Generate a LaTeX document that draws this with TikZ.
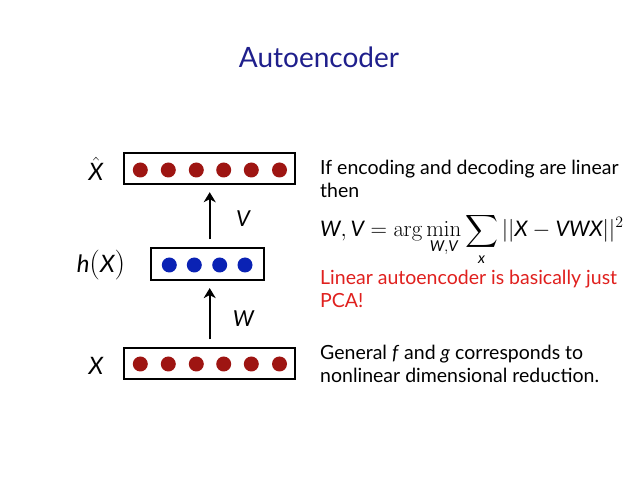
\documentclass[tikz,border=0pt]{standalone}
\usepackage{amsmath}
\usepackage{graphicx}
\usepackage[no-math]{fontspec}
\setmainfont{Lato}
\usetikzlibrary{arrows.meta}
\definecolor{titleblue}{HTML}{1F1F8C}
\definecolor{dotred}{HTML}{9E1512}
\definecolor{dotblue}{HTML}{0A22B4}
\definecolor{alertred}{HTML}{E0201E}
\newcommand\vi[1]{\text{\itshape #1}}
\tikzset{
  layer/.style={draw=black, line width=1.8pt, inner sep=0pt, fill=white},
  reddot/.style={circle, fill=dotred, minimum size=15pt, inner sep=0pt},
  bluedot/.style={circle, fill=dotblue, minimum size=15pt, inner sep=0pt},
  body/.style={anchor=base west, inner sep=0pt, font=\fontsize{19.5}{23}\selectfont},
  lab/.style={inner sep=0pt, font=\fontsize{22}{26}\selectfont\itshape},
  uparrow/.style={line width=2.4pt, -{Stealth[length=10pt,width=12pt,inset=3pt]}}
}
\begin{document}
\begin{tikzpicture}[x=1pt,y=-1pt]
\useasboundingbox[fill=white] (0,0) rectangle (638,478);
\node[anchor=base, inner sep=0pt, text=titleblue, font=\fontsize{28}{32}\selectfont] (title) at (319,68) {Autoencoder};

% layers
\node[layer, minimum width=171pt, minimum height=31pt] (top) at (209.7,168.8) {};
\node[layer, minimum width=113pt, minimum height=32pt] (mid) at (207.5,264.2) {};
\node[layer, minimum width=171pt, minimum height=31pt] (bot) at (209.7,363.8) {};

\foreach \i/\x in {1/140.3,2/168.3,3/196.3,4/223.7,5/251.3,6/279.5}{
  \node[reddot] (t\i) at (\x,170) {};
  \node[reddot] (b\i) at (\x,364) {};
}
\foreach \i/\x in {1/169.3,2/194.3,3/219.7,4/245}{
  \node[bluedot] (m\i) at (\x,265) {};
}

% arrows
\draw[uparrow, shorten <=8pt, shorten >=7pt] (bot.north) -- (bot.north |- mid.south);
\draw[uparrow, shorten <=8pt, shorten >=7pt] (mid.north -| top.south) -- (top.south);

% labels
\node[lab, font=\fontsize{24}{28}\selectfont\itshape] (lxhat) at (96,169) {$\hat{\text{\itshape X}}$};
\node[lab, font=\fontsize{24}{28}\selectfont\itshape] (lh) at (101,265) {\textit{h}\scalebox{1.2}{$($}\textit{X}\scalebox{1.2}{$)$}};
\node[lab, font=\fontsize{24}{28}\selectfont\itshape] (lx) at (96,366) {X};
\node[lab] (lv) at (243,219) {V};
\node[lab] (lw) at (243.5,319) {W};

% right text
\node[body] (t1) at (320,175) {If encoding and decoding are linear};
\node[body] (t2) at (320,198) {then};
\node[anchor=base west, inner sep=0pt, font=\fontsize{19.5}{23}\selectfont] (eq) at (320,237)
  {\scalebox{1.1}{$\displaystyle \vi{W}, \vi{V} = \arg\min_{\vi{W},\vi{V}} \sum_{\vi{x}} ||\vi{X} - \vi{VWX}||^2$}};
\node[body, text=alertred] (r1) at (320,285) {Linear autoencoder is basically just};
\node[body, text=alertred] (r2) at (320,308) {PCA!};
\node[body] (g1) at (320,360) {General \textit{f} and \textit{g} corresponds to};
\node[body] (g2) at (320,383) {nonlinear dimensional reduction.};
\end{tikzpicture}
\end{document}
